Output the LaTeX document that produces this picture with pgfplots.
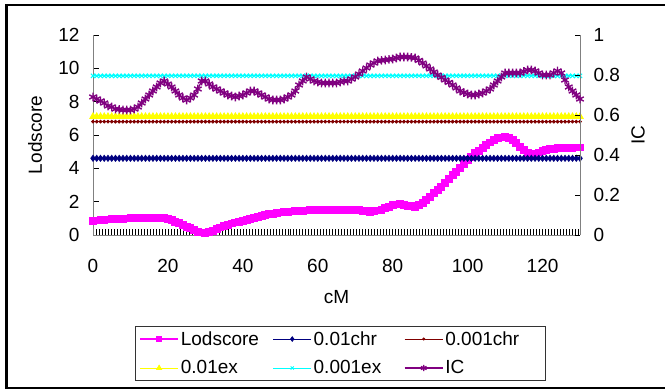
\documentclass[border=0pt]{standalone}
\usepackage{fontspec}
\setmainfont{Liberation Sans}
\usepackage{pgfplots}
\pgfplotsset{compat=1.18}
\usepackage{pgfplotstable}
\definecolor{lodc}{RGB}{255,0,255}
\definecolor{chrA}{RGB}{0,0,128}
\definecolor{chrB}{RGB}{128,0,0}
\definecolor{exA}{RGB}{255,255,0}
\definecolor{exB}{RGB}{0,255,255}
\definecolor{icc}{RGB}{128,0,128}
\definecolor{axg}{RGB}{128,128,128}
\pgfplotstableread{
x lod c1 c2 c3 c4 ic
0 0.85 4.6 6.8 7.1 9.55 0.69
1 0.87 4.6 6.8 7.1 9.55 0.68
2 0.89 4.6 6.8 7.1 9.55 0.67
3 0.91 4.6 6.8 7.1 9.55 0.66
4 0.93 4.6 6.8 7.1 9.55 0.645
5 0.95 4.6 6.8 7.1 9.55 0.64
6 0.96 4.6 6.8 7.1 9.55 0.63
7 0.97 4.6 6.8 7.1 9.55 0.628
8 0.98 4.6 6.8 7.1 9.55 0.625
9 0.99 4.6 6.8 7.1 9.55 0.625
10 1.00 4.6 6.8 7.1 9.55 0.625
11 1.00 4.6 6.8 7.1 9.55 0.63
12 1.00 4.6 6.8 7.1 9.55 0.64
13 1.00 4.6 6.8 7.1 9.55 0.66
14 1.00 4.6 6.8 7.1 9.55 0.68
15 1.00 4.6 6.8 7.1 9.55 0.70
16 1.00 4.6 6.8 7.1 9.55 0.72
17 1.00 4.6 6.8 7.1 9.55 0.74
18 1.00 4.6 6.8 7.1 9.55 0.76
19 1.00 4.6 6.8 7.1 9.55 0.77
20 0.95 4.6 6.8 7.1 9.55 0.755
21 0.88 4.6 6.8 7.1 9.55 0.74
22 0.80 4.6 6.8 7.1 9.55 0.72
23 0.70 4.6 6.8 7.1 9.55 0.70
24 0.60 4.6 6.8 7.1 9.55 0.685
25 0.50 4.6 6.8 7.1 9.55 0.675
26 0.40 4.6 6.8 7.1 9.55 0.685
27 0.30 4.6 6.8 7.1 9.55 0.70
28 0.20 4.6 6.8 7.1 9.55 0.73
29 0.15 4.6 6.8 7.1 9.55 0.77
30 0.10 4.6 6.8 7.1 9.55 0.77
31 0.17 4.6 6.8 7.1 9.55 0.755
32 0.25 4.6 6.8 7.1 9.55 0.74
33 0.35 4.6 6.8 7.1 9.55 0.73
34 0.45 4.6 6.8 7.1 9.55 0.72
35 0.55 4.6 6.8 7.1 9.55 0.71
36 0.62 4.6 6.8 7.1 9.55 0.70
37 0.69 4.6 6.8 7.1 9.55 0.695
38 0.75 4.6 6.8 7.1 9.55 0.69
39 0.80 4.6 6.8 7.1 9.55 0.695
40 0.85 4.6 6.8 7.1 9.55 0.70
41 0.90 4.6 6.8 7.1 9.55 0.71
42 0.95 4.6 6.8 7.1 9.55 0.72
43 1.01 4.6 6.8 7.1 9.55 0.72
44 1.07 4.6 6.8 7.1 9.55 0.71
45 1.13 4.6 6.8 7.1 9.55 0.70
46 1.20 4.6 6.8 7.1 9.55 0.69
47 1.24 4.6 6.8 7.1 9.55 0.68
48 1.28 4.6 6.8 7.1 9.55 0.675
49 1.32 4.6 6.8 7.1 9.55 0.675
50 1.35 4.6 6.8 7.1 9.55 0.675
51 1.37 4.6 6.8 7.1 9.55 0.68
52 1.39 4.6 6.8 7.1 9.55 0.69
53 1.41 4.6 6.8 7.1 9.55 0.70
54 1.43 4.6 6.8 7.1 9.55 0.72
55 1.45 4.6 6.8 7.1 9.55 0.75
56 1.46 4.6 6.8 7.1 9.55 0.77
57 1.47 4.6 6.8 7.1 9.55 0.79
58 1.48 4.6 6.8 7.1 9.55 0.78
59 1.49 4.6 6.8 7.1 9.55 0.77
60 1.50 4.6 6.8 7.1 9.55 0.765
61 1.50 4.6 6.8 7.1 9.55 0.76
62 1.51 4.6 6.8 7.1 9.55 0.76
63 1.51 4.6 6.8 7.1 9.55 0.76
64 1.52 4.6 6.8 7.1 9.55 0.76
65 1.52 4.6 6.8 7.1 9.55 0.76
66 1.52 4.6 6.8 7.1 9.55 0.765
67 1.51 4.6 6.8 7.1 9.55 0.77
68 1.51 4.6 6.8 7.1 9.55 0.77
69 1.50 4.6 6.8 7.1 9.55 0.78
70 1.50 4.6 6.8 7.1 9.55 0.79
71 1.48 4.6 6.8 7.1 9.55 0.805
72 1.45 4.6 6.8 7.1 9.55 0.82
73 1.42 4.6 6.8 7.1 9.55 0.835
74 1.40 4.6 6.8 7.1 9.55 0.85
75 1.43 4.6 6.8 7.1 9.55 0.86
76 1.47 4.6 6.8 7.1 9.55 0.87
77 1.50 4.6 6.8 7.1 9.55 0.873
78 1.60 4.6 6.8 7.1 9.55 0.875
79 1.70 4.6 6.8 7.1 9.55 0.878
80 1.80 4.6 6.8 7.1 9.55 0.88
81 1.83 4.6 6.8 7.1 9.55 0.885
82 1.85 4.6 6.8 7.1 9.55 0.89
83 1.80 4.6 6.8 7.1 9.55 0.89
84 1.75 4.6 6.8 7.1 9.55 0.89
85 1.72 4.6 6.8 7.1 9.55 0.888
86 1.70 4.6 6.8 7.1 9.55 0.885
87 1.80 4.6 6.8 7.1 9.55 0.873
88 1.90 4.6 6.8 7.1 9.55 0.86
89 2.10 4.6 6.8 7.1 9.55 0.845
90 2.30 4.6 6.8 7.1 9.55 0.83
91 2.50 4.6 6.8 7.1 9.55 0.815
92 2.70 4.6 6.8 7.1 9.55 0.80
93 2.90 4.6 6.8 7.1 9.55 0.788
94 3.10 4.6 6.8 7.1 9.55 0.775
95 3.35 4.6 6.8 7.1 9.55 0.763
96 3.60 4.6 6.8 7.1 9.55 0.75
97 3.80 4.6 6.8 7.1 9.55 0.735
98 4.00 4.6 6.8 7.1 9.55 0.72
99 4.25 4.6 6.8 7.1 9.55 0.712
100 4.50 4.6 6.8 7.1 9.55 0.705
101 4.70 4.6 6.8 7.1 9.55 0.70
102 4.90 4.6 6.8 7.1 9.55 0.70
103 5.05 4.6 6.8 7.1 9.55 0.705
104 5.20 4.6 6.8 7.1 9.55 0.71
105 5.38 4.6 6.8 7.1 9.55 0.72
106 5.55 4.6 6.8 7.1 9.55 0.73
107 5.68 4.6 6.8 7.1 9.55 0.75
108 5.80 4.6 6.8 7.1 9.55 0.77
109 5.85 4.6 6.8 7.1 9.55 0.79
110 5.90 4.6 6.8 7.1 9.55 0.81
111 5.80 4.6 6.8 7.1 9.55 0.81
112 5.70 4.6 6.8 7.1 9.55 0.81
113 5.50 4.6 6.8 7.1 9.55 0.81
114 5.30 4.6 6.8 7.1 9.55 0.81
115 5.10 4.6 6.8 7.1 9.55 0.818
116 4.90 4.6 6.8 7.1 9.55 0.825
117 4.75 4.6 6.8 7.1 9.55 0.825
118 4.85 4.6 6.8 7.1 9.55 0.82
119 4.95 4.6 6.8 7.1 9.55 0.81
120 5.05 4.6 6.8 7.1 9.55 0.80
121 5.10 4.6 6.8 7.1 9.55 0.80
122 5.15 4.6 6.8 7.1 9.55 0.80
123 5.18 4.6 6.8 7.1 9.55 0.81
124 5.20 4.6 6.8 7.1 9.55 0.82
125 5.22 4.6 6.8 7.1 9.55 0.81
126 5.23 4.6 6.8 7.1 9.55 0.775
127 5.24 4.6 6.8 7.1 9.55 0.74
128 5.24 4.6 6.8 7.1 9.55 0.72
129 5.25 4.6 6.8 7.1 9.55 0.70
130 5.25 4.6 6.8 7.1 9.55 0.68
}\data

\newcommand{\chartfont}{\fontsize{19bp}{22bp}\selectfont}

\pgfplotsset{
  lodstyle/.style={color=lodc, line width=1.5bp, mark=square*, mark size=3.2bp, mark options={solid}},
  c1style/.style={color=chrA, line width=0.8bp, mark=diamond*, mark size=3bp},
  c2style/.style={color=chrB, line width=0.8bp, mark=*, mark size=1.5bp},
  c3style/.style={color=exA, line width=0.8bp, mark=triangle*, mark size=3.8bp},
  c4style/.style={color=exB, line width=0.8bp, mark=x, mark size=3bp, mark options={line width=1bp}},
  icstyle/.style={color=icc, line width=1.2bp, mark=asterisk, mark size=4.3bp, mark options={line width=1.4bp}},
  common/.style={
    at={(93bp,155bp)}, anchor=south west,
    scale only axis, width=487bp, height=200bp,
    xmin=0, xmax=130,
    tick label style={font=\chartfont},
    /pgf/number format/assume math mode=true,
    tick align=inside,
    axis line style={draw=axg, line width=0.8bp},
    clip=false,
  },
}

\begin{document}
\begin{tikzpicture}
\useasboundingbox (0,0) rectangle (665bp,390bp);
\draw[line width=2.2bp] (670bp,385bp) -- (6.5bp,385bp) -- (6.5bp,2bp) -- (670bp,2bp);

\begin{axis}[common,
  ymin=0, ymax=12,
  axis x line*=bottom, axis y line*=left,
  xtick={0,20,...,120},
  minor xtick={0,0.8,...,130},
  ytick={0,2,...,12},
  major tick length=6bp, minor tick length=6bp,
  every tick/.style={black, line width=0.6bp},
  xticklabel style={yshift=-21bp},
  yticklabel style={xshift=-10bp},
  every axis y label/.style={at={(axis description cs:-0.119,0.5)}, anchor=center, rotate=90, font=\chartfont},
  every axis x label/.style={at={(axis description cs:0.5,-0.31)}, anchor=center, font=\chartfont},
  ylabel={Lodscore}, xlabel={cM},
]
\addplot[lodstyle] table[x=x, y=lod] {\data};
\addplot[c1style] table[x=x, y=c1] {\data};
\addplot[c2style] table[x=x, y=c2] {\data};
\addplot[c3style] table[x=x, y=c3] {\data};
\addplot[c4style] table[x=x, y=c4] {\data};
\end{axis}

\begin{axis}[common,
  ymin=0, ymax=1,
  axis x line=none, axis y line*=right,
  ytick={0,0.2,...,1},
  yticklabel style={xshift=10bp, /pgf/number format/fixed},
  major tick length=5bp,
  every tick/.style={black, line width=0.6bp},
  every axis y label/.style={at={(axis description cs:1.119,0.5)}, anchor=center, rotate=90, font=\chartfont},
  ylabel={IC},
  legend columns=3,
  legend cell align=left,
  legend style={at={(axis description cs:0.0862,-0.455)}, anchor=north west,
    font=\chartfont, draw=black!80, line width=0.8bp, inner xsep=4bp, inner ysep=3bp,
    row sep=10bp,
    /tikz/every even column/.append style={column sep=0bp}},
  legend image code/.code={\draw[mark repeat=2, mark phase=2, #1, every mark/.append style={scale=0.75}] plot coordinates {(0bp,0bp) (19bp,0bp) (38bp,0bp)};},
]
\addlegendimage{lodstyle}
\addlegendentry{\makebox[90bp][l]{Lodscore}}
\addlegendimage{c1style}
\addlegendentry{\makebox[88.5bp][l]{0.01chr}}
\addlegendimage{c2style}
\addlegendentry{\makebox[94bp][l]{0.001chr}}
\addlegendimage{c3style}
\addlegendentry{\makebox[90bp][l]{0.01ex}}
\addlegendimage{c4style}
\addlegendentry{\makebox[88.5bp][l]{0.001ex}}
\addplot[icstyle] table[x=x, y=ic] {\data};
\addlegendentry{IC}
\end{axis}
\end{tikzpicture}
\end{document}
